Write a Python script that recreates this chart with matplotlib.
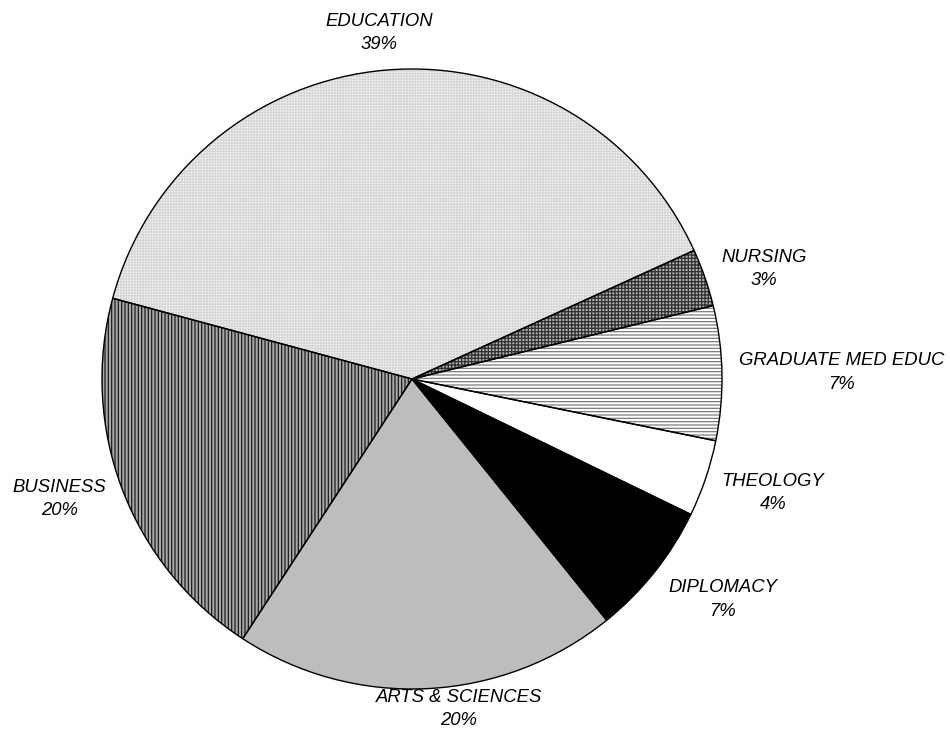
import numpy as np
import matplotlib
matplotlib.use("Agg")
import matplotlib.pyplot as plt

# Enrollment share by school
schools = ["EDUCATION", "BUSINESS", "ARTS & SCIENCES", "DIPLOMACY",
           "THEOLOGY", "GRADUATE MED EDUC", "NURSING"]
shares = [39, 20, 20, 7, 4, 7, 3]

# Fill styling for each wedge (face, hatch pattern, hatch colour)
faces = ["#f7f7f7", "#a8a8a8", "#bdbdbd", "#000000", "#ffffff", "#ffffff", "#b0b0b0"]
hatches = ["++++++", "|||||", None, None, None, "-----", "+++++"]
hatch_colors = ["#d6d6d6", "#1e1e1e", "#bdbdbd", "#000000", "#ffffff", "#7c7c7c", "#303030"]

# label placement: (radial distance, horizontal nudge, vertical nudge) in pie radii
label_layout = [(1.055, -0.02, 0.0), (1.055, 0.0, -0.01), (1.0, 0.1, 0.0),
                (1.055, 0.0, 0.01), (1.055, 0.0, -0.03), (1.055, 0.0, 0.0),
                (1.055, 0.0, 0.01)]

plt.rcParams["font.family"] = ["Liberation Sans", "DejaVu Sans"]
plt.rcParams["hatch.linewidth"] = 0.9

fig = plt.figure(figsize=(9.5, 7.47), dpi=100)
cx, cy, r = 412, 379, 310
W, H = 950, 747
ax = fig.add_axes([(cx - r) / W, (H - cy - r) / H, 2 * r / W, 2 * r / H])

start = 24.5
wedges, _ = ax.pie(shares, colors=faces, startangle=start, counterclock=True,
                   wedgeprops=dict(linewidth=0))
for w, h, hc in zip(wedges, hatches, hatch_colors):
    w.set_edgecolor(hc)
    w.set_linewidth(0)
    if h:
        w.set_hatch(h)

# black outlines on top
ax.pie(shares, colors=["none"] * len(shares), startangle=start, counterclock=True,
       wedgeprops=dict(fill=False, edgecolor="black", linewidth=1.0))

ax.set_xlim(-1, 1)
ax.set_ylim(-1, 1)
ax.set_aspect("equal")
ax.axis("off")

for w, name, val, (d, nx, ny) in zip(wedges, schools, shares, label_layout):
    mid = np.deg2rad((w.theta1 + w.theta2) / 2)
    c, s = np.cos(mid), np.sin(mid)
    x, y = d * c + nx, d * s + ny
    if c > 0.3:
        ha = "left"
    elif c < -0.3:
        ha = "right"
    else:
        ha = "center"
    if s > 0.9:
        va = "bottom"
    elif s < -0.5:
        va = "top"
    else:
        va = "center"
    ax.text(x, y, f"{name}\n{val}%", ha=ha, va=va, multialignment="center",
            fontsize=13.3, style="italic", linespacing=1.5, clip_on=False)

fig.savefig("out.png", dpi=100, facecolor="white")
